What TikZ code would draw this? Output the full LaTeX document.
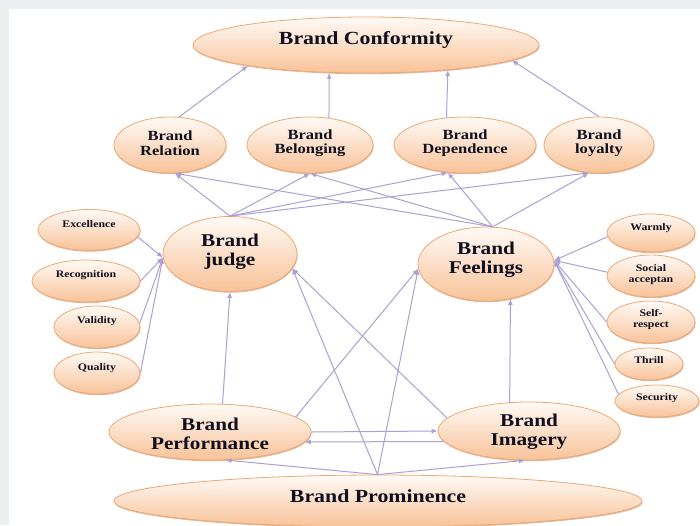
\documentclass[tikz,border=0pt]{standalone}
\usepackage{fontspec}
\newfontfamily\boxfont{Liberation Serif}[FakeStretch=1.18]
\usetikzlibrary{shapes.geometric}
\usetikzlibrary{shadows}
\usetikzlibrary{arrows.meta}
\definecolor{ink}{RGB}{15,15,32}
\definecolor{ovalline}{RGB}{238,168,115}
\definecolor{ovaltop}{RGB}{255,250,246}
\definecolor{ovalbottom}{RGB}{248,194,152}
\definecolor{ovalshadow}{RGB}{196,140,100}
\definecolor{linkcol}{RGB}{172,160,212}
\definecolor{framegray}{RGB}{237,238,240}
\tikzset{
  every picture/.style={
    >={Latex[width=5pt, length=6pt]}
  },
  oval/.style={
    ellipse, draw=ovalline, line width=0.8pt, inner sep=0pt,
    top color=ovaltop, bottom color=ovalbottom,
    drop shadow={shadow xshift=0.6pt, shadow yshift=-1.2pt,
      opacity=0.6, fill=ovalshadow}
  },
  link/.style={
    ->, draw=linkcol, line width=1pt
  },
  huge/.style={font=\boxfont\bfseries\fontsize{18.5}{20}\selectfont, text=ink, align=center},
  big/.style={font=\boxfont\bfseries\fontsize{18}{19}\selectfont, text=ink, align=center},
  mid/.style={font=\boxfont\bfseries\fontsize{14}{14.5}\selectfont, text=ink, align=center},
  tiny/.style={font=\boxfont\bfseries\fontsize{10}{11}\selectfont, text=ink, align=center}
}

\begin{document}
\begin{tikzpicture}[x=1pt, y=-1pt]
  \useasboundingbox (0,0) rectangle (700,525);
  \clip (0,0) rectangle (700,525);
  \fill[framegray] (0,0) rectangle (700,525);
  \fill[white] (9,9) rectangle (700,525);

  % top and second row
  \node[oval, minimum width=346, minimum height=56,
    label={[huge, yshift=5]center:Brand Conformity}] (conf) at (366,45) {};
  \node[oval, minimum width=112, minimum height=56,
    label={[mid, yshift=2]center:Brand\\Relation}] (rel) at (170,145) {};
  \node[oval, minimum width=126, minimum height=56,
    label={[mid, yshift=2]center:Brand\\Belonging}] (bel) at (310,145) {};
  \node[oval, minimum width=142, minimum height=56,
    label={[mid, yshift=2]center:Brand\\Dependence}] (dep) at (465,145) {};
  \node[oval, minimum width=110, minimum height=56,
    label={[mid, yshift=2]center:Brand\\loyalty}] (loy) at (599,145) {};

  % judge and feelings
  \node[oval, minimum width=134, minimum height=75,
    label={[big, yshift=2]center:Brand\\judge}] (jdg) at (230,254) {};
  \node[oval, minimum width=136, minimum height=74,
    label={[big, yshift=4]center:Brand\\Feelings}] (fee) at (486,264) {};

  % left attributes
  \node[oval, minimum width=102, minimum height=41,
    label={[tiny, yshift=6]center:Excellence}] (exc) at (89,230) {};
  \node[oval, minimum width=108, minimum height=42,
    label={[tiny, yshift=6]center:Recognition}] (rcg) at (86,281) {};
  \node[oval, minimum width=86, minimum height=42,
    label={[tiny, yshift=6]center:Validity}] (val) at (97,327) {};
  \node[oval, minimum width=86, minimum height=42,
    label={[tiny, yshift=5]center:Quality}] (qua) at (97,373) {};

  % right attributes
  \node[oval, minimum width=88, minimum height=38,
    label={[tiny, yshift=5]center:Warmly}] (wrm) at (651,233) {};
  \node[oval, minimum width=88, minimum height=42,
    label={[tiny, yshift=1]center:Social\\acceptan}] (soc) at (651,276) {};
  \node[oval, minimum width=88, minimum height=42,
    label={[tiny, yshift=2]center:Self-\\respect}] (slf) at (651,322) {};
  \node[oval, minimum width=68, minimum height=32,
    label={[tiny, yshift=4]center:Thrill}] (thr) at (649,364) {};
  \node[oval, minimum width=84, minimum height=32,
    label={[tiny, yshift=3]center:Security}] (sec) at (657,401) {};

  % bottom rows
  \node[oval, minimum width=202, minimum height=56,
    label={[big, yshift=-2]center:Brand\\Performance}] (pfm) at (210,432) {};
  \node[oval, minimum width=182, minimum height=58,
    label={[big, yshift=-1]center:Brand\\Imagery}] (img) at (529,431) {};
  \node[oval, minimum width=528, minimum height=52,
    label={[huge, yshift=5]center:Brand Prominence}] (prm) at (378,501) {};

  % second row to top
  \draw[link] (rel.72) -- (conf.190);
  \draw[link] (bel.55) -- (conf.217);
  \draw[link] (dep.124) -- (conf.343);
  \draw[link] (loy.north) -- (conf.354);

  % judge and feelings to second row
  \draw[link] (jdg.north) -- (rel.280);
  \draw[link] (jdg.north) -- (bel.south);
  \draw[link] (jdg.north) -- (dep.238);
  \draw[link] (jdg.north) -- (loy.250);
  \draw[link] (fee.80) -- (rel.280);
  \draw[link] (fee.80) -- (bel.south);
  \draw[link] (fee.80) -- (dep.238);
  \draw[link] (fee.80) -- (loy.250);

  % attributes
  \draw[link] (exc.352) -- (jdg.183);
  \draw[link] (rcg.east) -- (jdg.183);
  \draw[link] (val.5) -- (jdg.183);
  \draw[link] (qua.east) -- (jdg.183);
  \draw[link] (wrm.185) -- (fee.3);
  \draw[link] (soc.175) -- (fee.3);
  \draw[link] (slf.west) -- (fee.3);
  \draw[link] (thr.west) -- (fee.3);
  \draw[link] (sec.170) -- (fee.3);

  % prominence, performance, imagery
  \draw[link] (prm.91) -- (pfm.299);
  \draw[link] (prm.91) -- (img.262);
  \draw[link] (prm.91) -- (jdg.347);
  \draw[link] (prm.91) -- (fee.184);
  \draw[link] (pfm.66) -- (jdg.south);
  \draw[link] (pfm.10) -- (fee.184);
  \draw[link] (img.171) -- (jdg.347);
  \draw[link] (img.124) -- (fee.305);
  \draw[link] (pfm.east) -- (img.west);
  \draw[link] (img.187) -- (pfm.354);
\end{tikzpicture}
\end{document}
